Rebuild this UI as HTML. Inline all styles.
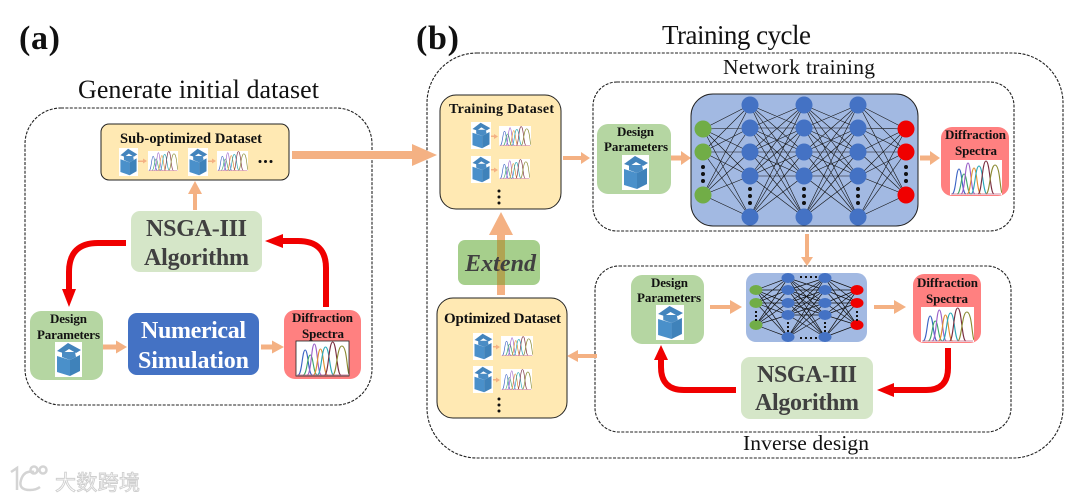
<!DOCTYPE html>
<html>
<head>
<meta charset="utf-8">
<title>Training cycle diagram</title>
<style>
html,body{margin:0;padding:0;background:#fff;width:1080px;height:501px;overflow:hidden}
svg{display:block;filter:blur(.35px)}
text{font-family:"Liberation Serif","Noto Serif CJK SC",serif}
.b{font-weight:bold;fill:#111}
.t{fill:#111}
.dash{fill:none;stroke:#222;stroke-width:1.1;stroke-dasharray:3 1.4}
.or{fill:#F4B183}
.red{fill:none;stroke:#F00000;stroke-width:6}
.g{fill:#404040;font-weight:bold}
.w{fill:#fff;font-weight:bold}
</style>
</head>
<body>
<svg width="1080" height="501" viewBox="0 0 1080 501" xmlns="http://www.w3.org/2000/svg">
<defs>
<symbol id="cube" viewBox="0 0 27 35" preserveAspectRatio="none">
<rect width="27" height="35" fill="#fff"/>
<polygon points="2,14 15,18 15,34 2,30" fill="#4A90CA"/>
<polygon points="15,18 25,13 25,29 15,34" fill="#3F82BA"/>
<polygon points="7,10 20,10 21,15 15,18 7,15" fill="#4A8CC4"/>
<polygon points="2,9 13,1 26,8 21,11 14,7 8,11" fill="#4384BC"/>
</symbol>
<symbol id="spec" viewBox="0 0 52 35" preserveAspectRatio="none">
<rect width="52" height="35" fill="#fff"/>
<g fill="none" stroke-width="1.100">
<path d="M2 34C6 34 6 9 9 9S12 34 16 34" stroke="#3A62C4"/>
<path d="M7 34C11 34 11 14 14 14S17 34 21 34" stroke="#3DA66A"/>
<path d="M11 34C15 34 15 3 18 3S21 34 25 34" stroke="#9A5FC8"/>
<path d="M17 34C21 34 21 8 24 8S27 34 31 34" stroke="#E09030"/>
<path d="M21 34C25 34 25 6 29 6S33 34 37 34" stroke="#2AA8B8"/>
<path d="M28 34C32 34 32 1 36 1S40 34 44 34" stroke="#7A2E40"/>
<path d="M36 34C40 34 40 5 45 5S50 30 52 33" stroke="#8A8A30"/>
</g>
<path d="M1 34H51" stroke="#C06080" stroke-width=".8"/>
</symbol>
<path id="hh" fill="none" stroke="#111" stroke-width=".6" d="M750 105L804 128M750 105L804 152M750 105L804 176M750 105L804 217M750 128L804 105M750 128L804 128M750 128L804 152M750 128L804 176M750 128L804 217M750 152L804 105M750 152L804 128M750 152L804 152M750 152L804 176M750 152L804 217M750 176L804 105M750 176L804 128M750 176L804 152M750 176L804 176M750 176L804 217M750 217L804 105M750 217L804 128M750 217L804 152M750 217L804 176"/>
<path id="inl" fill="none" stroke="#111" stroke-width=".6" d="M703 129L750 105M703 129L750 128M703 129L750 152M703 129L750 176M703 129L750 217M703 152L750 105M703 152L750 128M703 152L750 152M703 152L750 176M703 152L750 217M703 195L750 105M703 195L750 128M703 195L750 152M703 195L750 176M703 195L750 217"/>
<path id="shh" fill="none" stroke="#111" stroke-width=".7" d="M788 278L825 290M788 278L825 303M788 278L825 315M788 278L825 337M788 290L825 278M788 290L825 290M788 290L825 303M788 290L825 315M788 290L825 337M788 303L825 278M788 303L825 290M788 303L825 303M788 303L825 315M788 303L825 337M788 315L825 278M788 315L825 290M788 315L825 303M788 315L825 315M788 315L825 337M788 337L825 278M788 337L825 290M788 337L825 303M788 337L825 315"/>
<path id="sin" fill="none" stroke="#111" stroke-width=".7" d="M756 290L788 278M756 290L788 290M756 290L788 303M756 290L788 315M756 290L788 337M756 303L788 278M756 303L788 290M756 303L788 303M756 303L788 315M756 303L788 337M756 325L788 278M756 325L788 290M756 325L788 303M756 325L788 315M756 325L788 337"/>
</defs>

<!-- titles -->
<text x="19" y="49" class="b" font-size="34" textLength="41">(a)</text>
<text x="416" y="49" class="b" font-size="34" textLength="43">(b)</text>
<text x="662" y="44" class="t" font-size="27" textLength="149">Training cycle</text>
<text x="78" y="98" class="t" font-size="26" textLength="241">Generate initial dataset</text>
<text x="723" y="74" class="t" font-size="21.500" textLength="152">Network training</text>
<text x="743" y="450" class="t" font-size="21.500" textLength="126">Inverse design</text>

<!-- dashed containers -->
<rect x="25" y="108" width="347" height="297" rx="36" class="dash"/>
<rect x="427" y="53" width="636" height="405" rx="50" class="dash"/>
<rect x="593" y="82" width="421" height="149" rx="24" class="dash"/>
<rect x="595" y="266" width="416" height="166" rx="24" class="dash"/>

<!-- (a) panel -->
<rect x="101" y="124" width="188" height="56" rx="8" fill="#FFE9B3" stroke="#222" stroke-width="1"/>
<text x="120" y="143" class="b" font-size="14.500" textLength="142">Sub-optimized Dataset</text>
<use href="#cube" x="119" y="148" width="19" height="28"/>
<rect x="138" y="160.500" width="6" height="1.500" class="or"/><polygon points="143,158.500 147,161 143,163.500" class="or"/>
<use href="#spec" x="148" y="151" width="30" height="20"/>
<use href="#cube" x="188" y="148" width="20" height="28"/>
<rect x="208" y="160.500" width="5" height="1.500" class="or"/><polygon points="212,158.500 216,161 212,163.500" class="or"/>
<use href="#spec" x="217" y="151" width="31" height="20"/>
<g fill="#111"><circle cx="260" cy="161.500" r="1.500"/><circle cx="265.500" cy="161.500" r="1.500"/><circle cx="271" cy="161.500" r="1.500"/></g>

<rect x="193" y="193" width="4" height="17" class="or"/>
<polygon points="188,194 195,181 202,194" class="or"/>

<rect x="131" y="211" width="131" height="61" rx="9" fill="#D5E6C8"/>
<text x="146" y="236" class="g" font-size="24" textLength="101">NSGA-III</text>
<text x="144" y="265" class="g" font-size="24" textLength="105">Algorithm</text>

<rect x="30" y="311" width="73" height="69" rx="11" fill="#B5D6A2"/>
<text x="50" y="323" class="b" font-size="13" textLength="37">Design</text>
<text x="37" y="339" class="b" font-size="13" textLength="63">Parameters</text>
<use href="#cube" x="55" y="342" width="27" height="35"/>

<rect x="128" y="313" width="131" height="62" rx="9" fill="#4472C4"/>
<text x="141" y="338" class="w" font-size="24" textLength="105">Numerical</text>
<text x="138" y="368" class="w" font-size="24" textLength="111">Simulation</text>

<rect x="284" y="310" width="77" height="69" rx="11" fill="#FF8080"/>
<use href="#spec" x="296" y="341" width="53" height="35"/>
<rect x="296" y="341" width="53" height="35" fill="none" stroke="#222" stroke-width=".8"/>
<text x="292" y="322" class="b" font-size="13" textLength="61">Diffraction</text>
<text x="302" y="338" class="b" font-size="13" textLength="42">Spectra</text>

<rect x="103" y="344.500" width="15" height="5" class="or"/><polygon points="116,340.500 127,347 116,353.500" class="or"/>
<rect x="261" y="344.500" width="13" height="5" class="or"/><polygon points="272,340.500 284,347 272,353.500" class="or"/>

<path class="red" d="M126 243H98Q69 243 69 272V292"/>
<polygon points="62,289 76,289 69,307" fill="#F00000"/>
<path class="red" d="M326 307V268Q326 241 298 241H282"/>
<polygon points="283,234 283,248 265,241" fill="#F00000"/>

<!-- big arrow -->
<rect x="292" y="151" width="122" height="8" class="or"/>
<polygon points="412,144 412,166 437,155" class="or"/>

<!-- (b) datasets -->
<rect x="440" y="95" width="121" height="114" rx="16" fill="#FFE9B3" stroke="#222" stroke-width="1"/>
<text x="449" y="113" class="b" font-size="14" textLength="105">Training Dataset</text>
<use href="#cube" x="471" y="122" width="20" height="27"/>
<rect x="491" y="135.500" width="4" height="1.500" class="or"/><polygon points="494,134 498,136.500 494,139" class="or"/>
<use href="#spec" x="499" y="126" width="32" height="20"/>
<use href="#cube" x="471" y="156" width="20" height="27"/>
<rect x="491" y="169" width="4" height="1.500" class="or"/><polygon points="494,167.500 498,170 494,172.500" class="or"/>
<use href="#spec" x="499" y="159" width="31" height="20"/>
<g fill="#111"><circle cx="499" cy="191" r="1.500"/><circle cx="499" cy="197" r="1.500"/><circle cx="499" cy="203" r="1.500"/></g>

<rect x="437" y="298" width="130" height="120" rx="16" fill="#FFE9B3" stroke="#222" stroke-width="1"/>
<text x="444" y="323" class="b" font-size="15" textLength="117">Optimized Dataset</text>
<use href="#cube" x="473" y="333" width="20" height="27"/>
<rect x="493" y="346" width="4" height="1.500" class="or"/><polygon points="496,344.500 500,347 496,349.500" class="or"/>
<use href="#spec" x="501" y="336" width="32" height="20"/>
<use href="#cube" x="473" y="366" width="20" height="27"/>
<rect x="493" y="379" width="4" height="1.500" class="or"/><polygon points="496,377.500 500,380 496,382.500" class="or"/>
<use href="#spec" x="501" y="369" width="31" height="21"/>
<g fill="#111"><circle cx="499" cy="399" r="1.500"/><circle cx="499" cy="405" r="1.500"/><circle cx="499" cy="411" r="1.500"/></g>

<!-- extend -->
<rect x="458" y="240" width="82" height="45" rx="7" fill="#A6CF8C"/>
<rect x="497" y="233" width="8" height="62" class="or"/>
<rect x="497" y="240" width="8" height="45" fill="#B0A452"/>
<polygon points="489,235 513,235 501,212" class="or"/>
<text x="465" y="271" class="g" font-size="24" font-style="italic" textLength="71">Extend</text>

<rect x="563" y="156" width="19" height="4" class="or"/><polygon points="581,152 581,164 590,158" class="or"/>
<rect x="577" y="354" width="20" height="4" class="or"/><polygon points="578,350 578,362 567,356" class="or"/>

<!-- network training -->
<rect x="597" y="124" width="74" height="70" rx="11" fill="#B5D6A2"/>
<text x="617" y="136" class="b" font-size="13" textLength="37">Design</text>
<text x="604" y="151" class="b" font-size="13" textLength="64">Parameters</text>
<use href="#cube" x="622" y="155" width="27" height="35"/>
<rect x="671" y="155.500" width="12" height="5" class="or"/><polygon points="681,151 681,165 691,158" class="or"/>

<rect x="691" y="94" width="227" height="132" rx="22" fill="#A2B9E2" stroke="#222" stroke-width="1"/>
<use href="#inl"/>
<use href="#hh"/>
<use href="#hh" transform="translate(54 0)"/>
<use href="#inl" transform="translate(1609 0) scale(-1 1)"/>
<g fill="#71AD47"><circle cx="703" cy="129" r="8.500"/><circle cx="703" cy="152" r="8.500"/><circle cx="703" cy="195" r="8.500"/></g>
<g fill="#4472C4">
<circle cx="750" cy="105" r="8.500"/><circle cx="750" cy="128" r="8.500"/><circle cx="750" cy="152" r="8.500"/><circle cx="750" cy="176" r="8.500"/><circle cx="750" cy="217" r="8.500"/>
<circle cx="804" cy="105" r="8.500"/><circle cx="804" cy="128" r="8.500"/><circle cx="804" cy="152" r="8.500"/><circle cx="804" cy="176" r="8.500"/><circle cx="804" cy="217" r="8.500"/>
<circle cx="858" cy="105" r="8.500"/><circle cx="858" cy="128" r="8.500"/><circle cx="858" cy="152" r="8.500"/><circle cx="858" cy="176" r="8.500"/><circle cx="858" cy="217" r="8.500"/>
</g>
<g fill="#F00000"><circle cx="906" cy="129" r="8.500"/><circle cx="906" cy="152" r="8.500"/><circle cx="906" cy="195" r="8.500"/></g>
<g fill="#111">
<circle cx="703" cy="167" r="2"/><circle cx="703" cy="174" r="2"/><circle cx="703" cy="181" r="2"/>
<circle cx="906" cy="167" r="2"/><circle cx="906" cy="174" r="2"/><circle cx="906" cy="181" r="2"/>
<circle cx="750" cy="189" r="2"/><circle cx="750" cy="196" r="2"/><circle cx="750" cy="203" r="2"/>
<circle cx="804" cy="189" r="2"/><circle cx="804" cy="196" r="2"/><circle cx="804" cy="203" r="2"/>
<circle cx="858" cy="189" r="2"/><circle cx="858" cy="196" r="2"/><circle cx="858" cy="203" r="2"/>
</g>

<rect x="920" y="155.500" width="12" height="5" class="or"/><polygon points="930,151 930,165 940,158" class="or"/>
<rect x="941" y="127" width="68" height="69" rx="11" fill="#FF8080"/>
<use href="#spec" x="950" y="160" width="52" height="35"/>
<text x="945" y="139" class="b" font-size="13" textLength="61">Diffraction</text>
<text x="955" y="155" class="b" font-size="13" textLength="42">Spectra</text>

<rect x="805" y="234" width="4" height="25" class="or"/><polygon points="801,257 813,257 807,266" class="or"/>

<!-- inverse design -->
<rect x="631" y="275" width="73" height="69" rx="11" fill="#B5D6A2"/>
<text x="651" y="287" class="b" font-size="13" textLength="37">Design</text>
<text x="637" y="302" class="b" font-size="13" textLength="64">Parameters</text>
<use href="#cube" x="656" y="305" width="28" height="35"/>
<rect x="710" y="305" width="22" height="4" class="or"/><polygon points="730,300 730,314 742,307" class="or"/>

<rect x="746" y="273" width="121" height="69" rx="10" fill="#A2B9E2"/>
<use href="#sin"/>
<use href="#shh"/>
<use href="#sin" transform="translate(1613 0) scale(-1 1)"/>
<g fill="#71AD47"><ellipse cx="756" cy="290" rx="6.500" ry="5"/><ellipse cx="756" cy="303" rx="6.500" ry="5"/><ellipse cx="756" cy="325" rx="6.500" ry="5"/></g>
<g fill="#4472C4">
<ellipse cx="788" cy="278" rx="6.500" ry="5"/><ellipse cx="788" cy="290" rx="6.500" ry="5"/><ellipse cx="788" cy="303" rx="6.500" ry="5"/><ellipse cx="788" cy="315" rx="6.500" ry="5"/><ellipse cx="788" cy="337" rx="6.500" ry="5"/>
<ellipse cx="825" cy="278" rx="6.500" ry="5"/><ellipse cx="825" cy="290" rx="6.500" ry="5"/><ellipse cx="825" cy="303" rx="6.500" ry="5"/><ellipse cx="825" cy="315" rx="6.500" ry="5"/><ellipse cx="825" cy="337" rx="6.500" ry="5"/>
</g>
<g fill="#F00000"><ellipse cx="857" cy="290" rx="6.500" ry="5"/><ellipse cx="857" cy="303" rx="6.500" ry="5"/><ellipse cx="857" cy="325" rx="6.500" ry="5"/></g>
<g fill="#111">
<rect x="755" y="311" width="2" height="2"/><rect x="755" y="315" width="2" height="2"/><rect x="755" y="319" width="2" height="2"/>
<rect x="856" y="311" width="2" height="2"/><rect x="856" y="315" width="2" height="2"/><rect x="856" y="319" width="2" height="2"/>
<rect x="787" y="322" width="2" height="2"/><rect x="787" y="326" width="2" height="2"/><rect x="787" y="330" width="2" height="2"/>
<rect x="824" y="322" width="2" height="2"/><rect x="824" y="326" width="2" height="2"/><rect x="824" y="330" width="2" height="2"/>
<rect x="800" y="276" width="2" height="2"/><rect x="805" y="276" width="2" height="2"/><rect x="810" y="276" width="2" height="2"/><rect x="815" y="276" width="2" height="2"/>
<rect x="800" y="337" width="2" height="2"/><rect x="805" y="337" width="2" height="2"/><rect x="810" y="337" width="2" height="2"/><rect x="815" y="337" width="2" height="2"/>
</g>

<rect x="874" y="305" width="22" height="4" class="or"/><polygon points="894,300 894,314 906,307" class="or"/>
<rect x="913" y="274" width="68" height="69" rx="11" fill="#FF8080"/>
<use href="#spec" x="921" y="307" width="53" height="35"/>
<text x="917" y="287" class="b" font-size="13" textLength="61">Diffraction</text>
<text x="926" y="303" class="b" font-size="13" textLength="42">Spectra</text>

<rect x="741" y="357" width="132" height="62" rx="9" fill="#D5E6C8"/>
<text x="757" y="382" class="g" font-size="24" textLength="100">NSGA-III</text>
<text x="755" y="410" class="g" font-size="24" textLength="104">Algorithm</text>

<path class="red" d="M948 348V368Q948 390 926 390H892"/>
<polygon points="894,383 894,397 877,390" fill="#F00000"/>
<path class="red" d="M736 390H684Q661 390 661 367V357"/>
<polygon points="654,360 668,360 661,345" fill="#F00000"/>

<!-- watermark -->
<g fill="none" stroke="#d4d4d4" stroke-width="2.500">
<path d="M11 472L17 468V490"/>
<path d="M34 472Q24 470 21 480T30 490Q36 490 40 487"/>
<circle cx="34" cy="470" r="3.500"/><circle cx="43" cy="470" r="3.500"/>
</g>
<text x="55" y="490" font-size="21" textLength="85" fill="#fff" stroke="#cfcfcf" stroke-width=".9" style="font-family:'Noto Sans CJK SC',sans-serif">大数跨境</text>
</svg>
</body>
</html>
